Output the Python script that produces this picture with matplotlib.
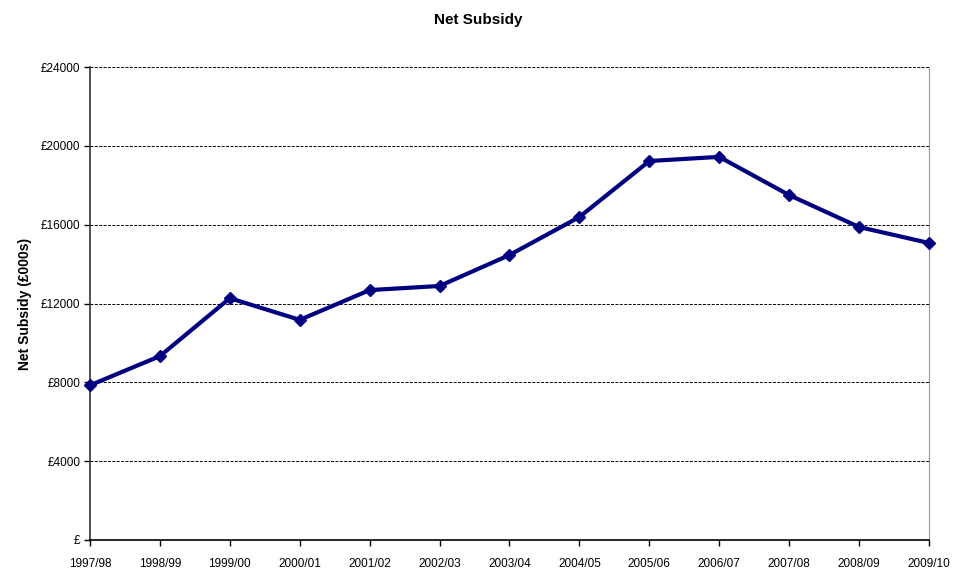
# Gráfica de línea: subvención neta por año
import matplotlib.pyplot as plt
import numpy as np

# Datos
anios = ['1997/98', '1998/99', '1999/00', '2000/01', '2001/02', '2002/03',
         '2003/04', '2004/05', '2005/06', '2006/07', '2007/08', '2008/09', '2009/10']
subvencion = [7850, 9330, 12270, 11170, 12680, 12890,
              14460, 16390, 19230, 19440, 17500, 15880, 15070]
ticks_y = [0, 4000, 8000, 12000, 16000, 20000, 24000]
etiquetas_y = ['£', '£4000', '£8000', '£12000', '£16000', '£20000', '£24000']

plt.rcParams['font.family'] = ['Liberation Sans', 'DejaVu Sans']

fig = plt.figure(figsize=(9.56, 5.74), dpi=100)
ax = fig.add_axes([90 / 956, 1 - 540 / 574, (929 - 90) / 956, (540 - 67) / 574])

x = np.arange(len(anios))
ax.plot(x, subvencion, color='#000080', linewidth=3, marker='D', markersize=6.5,
        zorder=3, clip_on=False)

ax.set_xlim(0, len(anios) - 1)
ax.set_ylim(0, 24000)
ax.set_xticks(x)
ax.set_xticklabels(anios, fontsize=8.5)
ax.set_yticks(ticks_y)
ax.set_yticklabels(etiquetas_y, fontsize=8.5)
ax.tick_params(axis='both', direction='out', length=4, width=1, color='black')
ax.tick_params(axis='x', pad=9)
ax.tick_params(axis='y', pad=3)

# Cuadrícula discontinua
ax.grid(axis='y', linestyle=(0, (3, 1.5)), color='black', linewidth=0.7)
ax.set_axisbelow(True)

ax.spines['top'].set_visible(False)
ax.spines['right'].set_color('#999999')
ax.spines['left'].set_color('#333333')
ax.spines['bottom'].set_color('black')
ax.spines['left'].set_linewidth(1.2)
ax.spines['bottom'].set_linewidth(1.2)

ax.set_ylabel('Net Subsidy (£000s)', fontsize=10, fontweight='bold', labelpad=6)
fig.text(0.5, 1 - 20 / 574, 'Net Subsidy', ha='center', va='center',
         fontsize=11, fontweight='bold')

fig.savefig('out.png', dpi=100)
